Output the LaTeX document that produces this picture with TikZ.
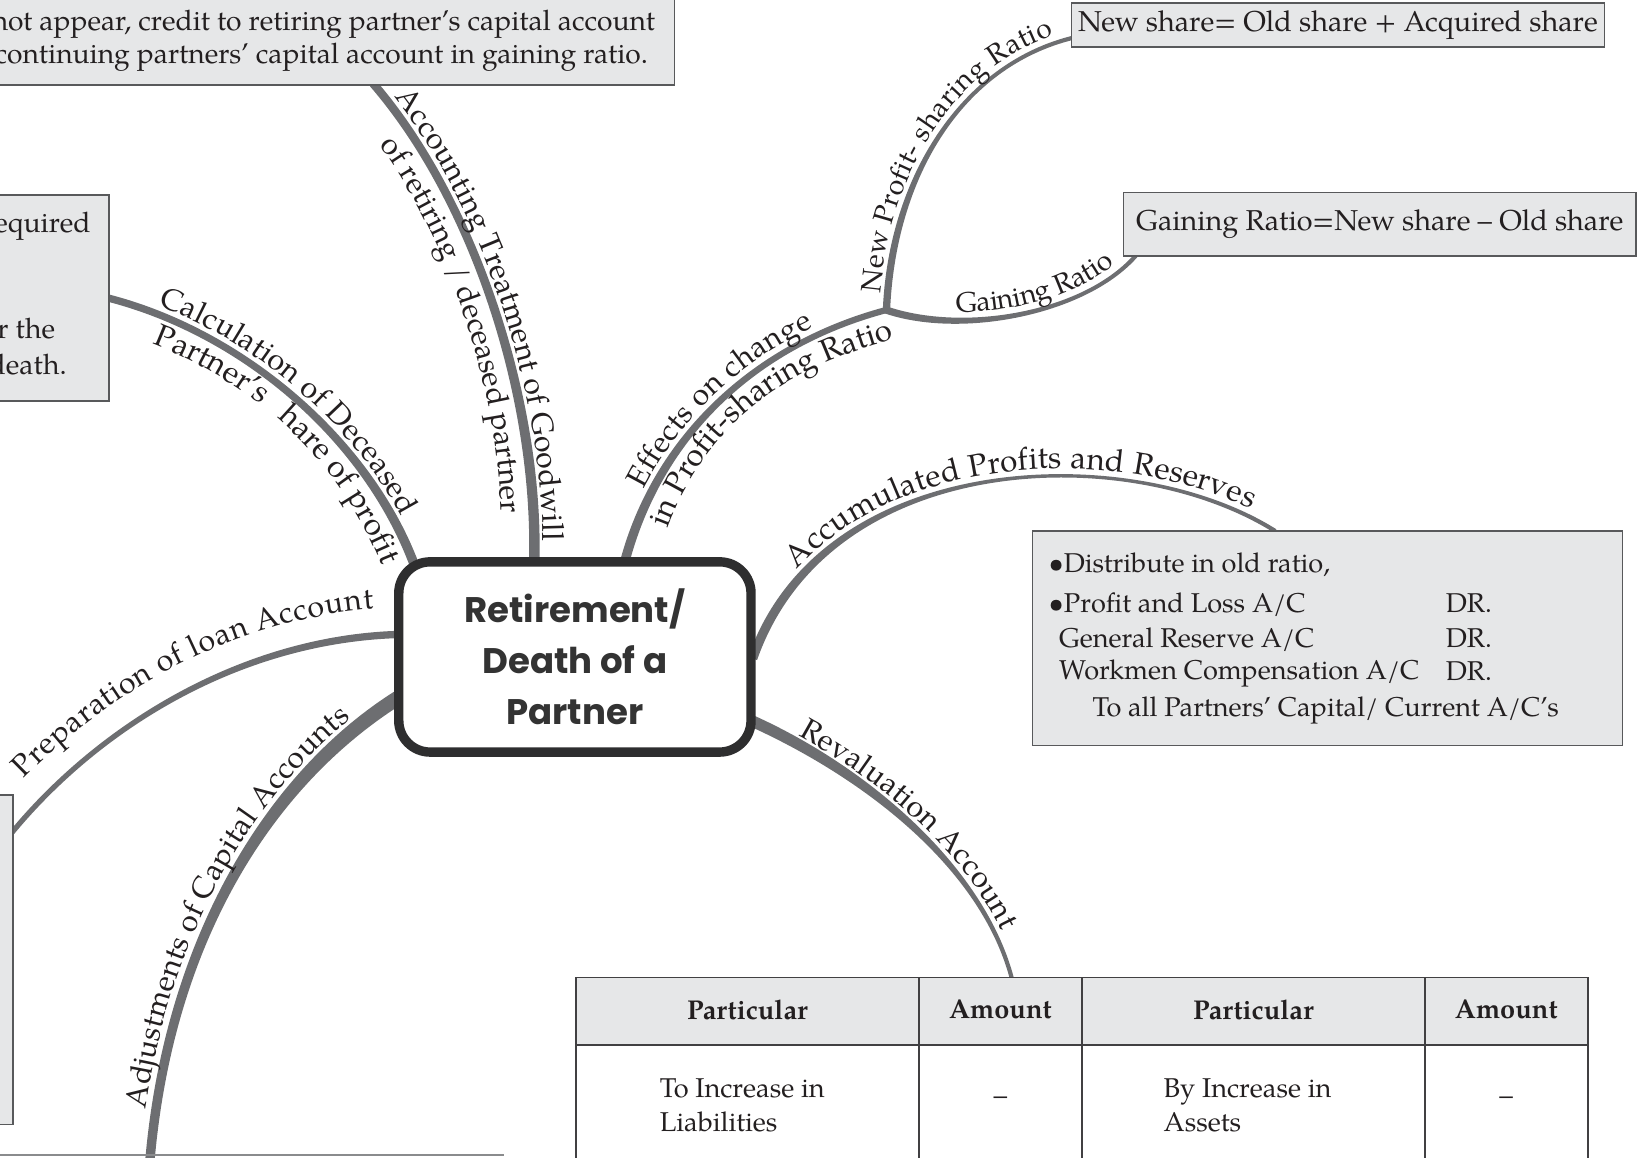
\documentclass[tikz,border=0pt]{standalone}
\usepackage{fontspec}
\setmainfont{TeX Gyre Pagella}
\newfontfamily\popfont{Poppins}
\usetikzlibrary{decorations.text,calc}
\definecolor{conn}{HTML}{6D6E71}
\definecolor{boxfill}{HTML}{E6E7E8}
\definecolor{boxline}{HTML}{58595B}
\definecolor{ink}{HTML}{231F20}
\definecolor{hubline}{HTML}{2E2E2F}
\definecolor{hubtext}{HTML}{333333}
\definecolor{tabline}{HTML}{414042}
% tapered connector: A C1 C2 B halfwidthA halfwidthB
\newcommand\taper[6]{%
  \coordinate (tA1) at ($(#1)!#5!90:(#2)$);
  \coordinate (tA2) at ($(#1)!#5!-90:(#2)$);
  \coordinate (tB1) at ($(#4)!#6!-90:(#3)$);
  \coordinate (tB2) at ($(#4)!#6!90:(#3)$);
  \fill[conn] (tA1) .. controls ($(#2)+(tA1)-(#1)$) and ($(#3)+(tB1)-(#4)$) .. (tB1) -- (tB2) .. controls ($(#3)+(tB2)-(#4)$) and ($(#2)+(tA2)-(#1)$) .. (tA2) -- cycle;}
% curved label on the left of the path: A C1 C2 B raise size align text
\newcommand\clabel[8]{\path[decorate,decoration={text along path,text align={#7},raise=#5,text color=ink,text={|\fontsize{#6}{#6}\selectfont|#8}}] (#1) .. controls (#2) and (#3) .. (#4);}
% curved label on an offset copy of the path (baseline on the offset path)
\newcommand\ilabel[8]{%
  \coordinate (oA) at ($(#1)!#5!90:(#2)$);
  \coordinate (oB) at ($(#4)!#5!-90:(#3)$);
  \path[decorate,decoration={text along path,text align={#7},text color=ink,text={|\fontsize{#6}{#6}\selectfont|#8}}] (oA) .. controls ($(#2)+(oA)-(#1)$) and ($(#3)+(oB)-(#4)$) .. (oB);}
\begin{document}
\begin{tikzpicture}[x=1pt,y=-1pt,
  box/.style={draw=boxline,fill=boxfill,line width=1.4pt,inner sep=0pt},
  btxt/.style={inner sep=0pt,text=ink,font=\fontsize{27}{32}\selectfont},
  hub/.style={draw=hubline,fill=white,line width=9pt,rounded corners=30pt,minimum width=337pt,minimum height=182pt,align=center,text=hubtext,font=\popfont\bfseries\fontsize{34}{49}\selectfont},
  tab/.style={draw=tabline,line width=1.6pt}]
\useasboundingbox (0,0) rectangle (1568,1107);
\clip (0,0) rectangle (1568,1107);

% ---------- anchor coordinates ----------
\coordinate (gwA) at (511,540); \coordinate (gw1) at (516,380); \coordinate (gw2) at (452,190); \coordinate (gwB) at (357,80);
\coordinate (dcA) at (397,542); \coordinate (dc1) at (352,420); \coordinate (dc2) at (232,318); \coordinate (dcB) at (103,285);
\coordinate (lnA) at (380,607); \coordinate (ln1) at (230,612); \coordinate (ln2) at (95,695); \coordinate (lnB) at (11,797);
\coordinate (adA) at (385,665); \coordinate (ad1) at (255,745); \coordinate (ad2) at (160,905); \coordinate (adB) at (143,1115);
\coordinate (efA) at (597,540); \coordinate (ef1) at (628,420); \coordinate (ef2) at (720,330); \coordinate (efB) at (850,296);
\coordinate (npA) at (848,298); \coordinate (np1) at (853,170); \coordinate (np2) at (920,62); \coordinate (npB) at (1027,36);
\coordinate (grA) at (846,296); \coordinate (gr1) at (920,322); \coordinate (gr2) at (1040,300); \coordinate (grB) at (1088,243);
\coordinate (acA) at (720,630); \coordinate (ac1) at (790,430); \coordinate (ac2) at (1080,420); \coordinate (acB) at (1220,508);
\coordinate (rvA) at (720,690); \coordinate (rv1) at (830,740); \coordinate (rv2) at (940,830); \coordinate (rvB) at (968,936);

% ---------- connectors ----------
\taper{gwA}{gw1}{gw2}{gwB}{5pt}{4pt}
\taper{dcA}{dc1}{dc2}{dcB}{4.5pt}{3.5pt}
\taper{lnA}{ln1}{ln2}{lnB}{3.5pt}{2.5pt}
\taper{adA}{ad1}{ad2}{adB}{7pt}{4.5pt}
\taper{efA}{ef1}{ef2}{efB}{4.5pt}{3pt}
\taper{npA}{np1}{np2}{npB}{3.5pt}{2pt}
\taper{grA}{gr1}{gr2}{grB}{3.5pt}{2pt}
\taper{acA}{ac1}{ac2}{acB}{4.5pt}{2pt}
\taper{rvA}{rv1}{rv2}{rvB}{5.5pt}{2pt}

% ---------- curved labels ----------
\clabel{gwB}{gw2}{gw1}{gwA}{8pt}{29}{center}{Accounting Treatment of Goodwill}
\ilabel{gwB}{gw2}{gw1}{gwA}{-31pt}{29}{center}{of retiring / deceased partner}
\clabel{dcB}{dc2}{dc1}{dcA}{8pt}{29}{center}{Calculation of Deceased}
\ilabel{dcB}{dc2}{dc1}{dcA}{-29pt}{30}{right,right indent=12pt}{Partner’s {\hspace*{12pt}}hare of profit}
\clabel{lnB}{ln2}{ln1}{lnA}{26pt}{29}{right,right indent=20pt}{Preparation of loan Account}
\clabel{adB}{ad2}{ad1}{adA}{10pt}{29}{center}{Adjustments of Capital Accounts}
\clabel{efA}{ef1}{ef2}{efB}{8pt}{29}{center}{Effects on change}
\ilabel{efA}{ef1}{ef2}{efB}{-29pt}{30}{right,right indent=2pt}{in Profit-sharing Ratio}
\clabel{npA}{np1}{np2}{npB}{7pt}{27}{center}{New Profit- sharing Ratio}
\clabel{grA}{gr1}{gr2}{grB}{8pt}{27}{right,right indent=24pt}{Gaining Ratio}
\clabel{acA}{ac1}{ac2}{acB}{7pt}{30}{right,right indent=30pt}{Accumulated Profits and Reserves}
\clabel{rvA}{rv1}{rv2}{rvB}{7pt}{29}{center}{Revaluation Account}

% ---------- boxes ----------
\node[box,anchor=south east,minimum width=660pt,minimum height=95pt] (gwbox) at (646,82) {};
\node[btxt,anchor=base east] (gwt1) at (627,29) {not appear, credit to retiring partner’s capital account};
\node[btxt,anchor=base east] (gwt2) at (620,61) {continuing partners’ capital account in gaining ratio.};

\node[box,anchor=north east,minimum width=120pt,minimum height=197pt] (dcbox) at (105,186) {};
\node[btxt,anchor=base east] (dct1) at (87,222) {equired};
\node[btxt,anchor=base east] (dct2) at (53,324) {r the};
\node[btxt,anchor=base east] (dct3) at (64,358) {death.};

\node[box,anchor=north east,minimum width=30pt,minimum height=315pt] (lnbox) at (13,760) {};

\draw[draw=conn!80,line width=1.4pt] (0,1105) -- (482,1105);

\node[box,minimum width=510pt,minimum height=42pt,text=ink,font=\fontsize{27.5}{32}\selectfont] (nsbox) at (1280,24) {New share= Old share + Acquired share};
\node[box,minimum width=490pt,minimum height=61pt,text=ink,font=\fontsize{27.5}{32}\selectfont] (grbox) at (1320,214.5) {Gaining Ratio=New share – Old share};

\node[box,minimum width=564pt,minimum height=205pt] (acbox) at (1270,610.5) {};
\begin{scope}[every node/.style={btxt,font=\fontsize{26}{30}\selectfont}]
\node[anchor=base west] (ac1t) at (1003,548) {•Distribute in old ratio,};
\node[anchor=base west] (ac2t) at (1003,586) {•Profit and Loss A/C};
\node[anchor=base west] (ac3t) at (1013,619) {General Reserve A/C};
\node[anchor=base west] (ac4t) at (1013,650) {Workmen Compensation A/C};
\node[anchor=base west] (ac5t) at (1045,685) {To all Partners’ Capital/ Current A/C’s};
\node[anchor=base west] (dr1) at (1383,586) {DR.};
\node[anchor=base west] (dr2) at (1383,619) {DR.};
\node[anchor=base west] (dr3) at (1383,651) {DR.};
\end{scope}

% ---------- table ----------
\fill[boxfill] (551,935) rectangle (1519,1000);
\draw[tab] (551,1120) -- (551,935) -- (1519,935) -- (1519,1120);
\draw[tab] (551,1000) -- (1519,1000);
\foreach \cx in {879,1035,1363} \draw[tab] (\cx,935) -- (\cx,1120);
\begin{scope}[every node/.style={inner sep=0pt,text=ink,font=\bfseries\fontsize{26}{30}\selectfont}]
\node (h1) at (715,966) {Particular};
\node (h2) at (957,966) {Amount};
\node (h3) at (1199,966) {Particular};
\node (h4) at (1441,966) {Amount};
\end{scope}
\begin{scope}[every node/.style={inner sep=0pt,text=ink,font=\fontsize{26}{32}\selectfont}]
\node[anchor=base west] (b1a) at (631,1050) {To Increase in};
\node[anchor=base west] (b1b) at (631,1082) {Liabilities};
\node[anchor=base west] (b3a) at (1113,1050) {By Increase in};
\node[anchor=base west] (b3b) at (1113,1082) {Assets};
\node (b2) at (957,1053) {–};
\node (b4) at (1441,1053) {–};
\end{scope}

% ---------- hub ----------
\node[hub] (hub) at (550,628.5) {Retirement/\\Death of a\\Partner};
\end{tikzpicture}
\end{document}
